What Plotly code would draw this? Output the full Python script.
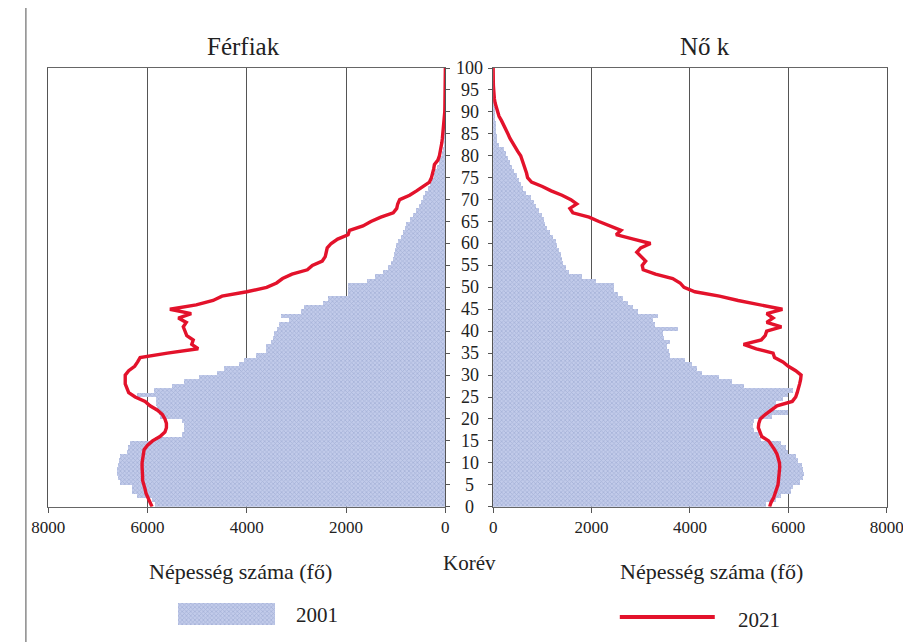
import plotly.graph_objects as go

ages = list(range(0, 101))
age_ticks = list(range(0, 101, 5))
x_ticks = [0, 2000, 4000, 6000, 8000]
x_ticks_top = [1000, 3000, 5000, 7000]

men_2001 = [5840, 5900, 6200, 6300, 6300, 6550, 6580, 6600, 6600, 6580,
            6560, 6550, 6400, 6380, 6350, 5850, 5300, 5270, 5250, 5300,
            5740, 5760, 5800, 5820, 5820, 6200, 5870, 5500, 5270, 4950,
            4600, 4450, 4150, 4050, 3800, 3600, 3600, 3500, 3470, 3450,
            3380, 3350, 3150, 3300, 2900, 2850, 2450, 2350, 1960, 1950,
            1950, 1580, 1420, 1250, 1150, 1080, 1050, 1020, 1000, 980,
            950, 880, 850, 800, 780, 700, 650, 580, 530, 480,
            440, 400, 350, 310, 270, 230, 210, 170, 130, 100,
            70, 50, 30, 20, 15, 10, 8, 6, 4, 3,
            2, 2, 1, 1, 0, 0, 0, 0, 0, 0, 0]

men_2021 = [5910, 5950, 6000, 6030, 6050, 6080, 6100, 6100, 6110, 6110,
            6110, 6100, 6090, 6070, 6000, 5900, 5750, 5650, 5620, 5620,
            5650, 5700, 5800, 5950, 6050, 6250, 6380, 6420, 6450, 6450,
            6450, 6380, 6260, 6200, 6150, 5600, 4980, 5110, 5080, 5210,
            5250, 5280, 5220, 5380, 5120, 5550, 5020, 4680, 4500, 4000,
            3600, 3400, 3280, 3090, 2780, 2680, 2480, 2420, 2400, 2380,
            2300, 2170, 1960, 1930, 1660, 1500, 1300, 1050, 980, 960,
            920, 720, 580, 450, 320, 280, 250, 235, 220, 150,
            120, 100, 90, 70, 60, 50, 40, 30, 22, 15,
            12, 10, 8, 5, 4, 3, 2, 1, 1, 0, 0]

women_2001 = [5550, 5750, 5850, 6050, 6100, 6250, 6300, 6320, 6300, 6280,
              6200, 6150, 6000, 5950, 5850, 5450, 5400, 5300, 5280, 5300,
              5680, 6000, 5700, 5750, 5900, 6000, 6100, 5100, 4850, 4600,
              4250, 4150, 4050, 3900, 3600, 3570, 3540, 3600, 3470, 3450,
              3770, 3300, 3250, 3350, 2950, 2850, 2750, 2650, 2550, 2450,
              2450, 2100, 1800, 1550, 1480, 1420, 1400, 1380, 1350, 1300,
              1280, 1220, 1150, 1100, 1060, 1040, 1000, 930, 880, 830,
              770, 680, 600, 560, 520, 480, 430, 390, 350, 300,
              270, 220, 130, 90, 80, 70, 65, 55, 45, 35,
              25, 15, 10, 6, 4, 2, 1, 0, 0, 0, 0]

women_2021 = [5620, 5650, 5700, 5730, 5760, 5790, 5800, 5810, 5820, 5825,
              5820, 5800, 5770, 5720, 5650, 5600, 5460, 5420, 5390, 5400,
              5430, 5530, 5650, 5770, 6080, 6150, 6180, 6210, 6230, 6250,
              6260, 6150, 6000, 5890, 5720, 5690, 5350, 5090, 5450, 5530,
              5560, 5860, 5560, 5690, 5560, 5880, 5400, 4980, 4600, 4100,
              3880, 3800, 3650, 3300, 3050, 3030, 3100, 3000, 2920, 3000,
              3200, 2850, 2500, 2600, 2350, 2150, 1950, 1620, 1560, 1700,
              1580, 1400, 1180, 1000, 780, 700, 680, 650, 630, 600,
              560, 500, 440, 390, 340, 300, 260, 220, 170, 120,
              90, 60, 40, 25, 15, 10, 5, 3, 2, 1, 0]

W, H = 911, 642
# observed page mapping: screen_x = 25 + 0.963 * svg_x ; screen_y = 8 + svg_y
SX0, SXS, SY0 = 25.0, 0.963, 8.0
FONT = "Liberation Serif, Times New Roman, Times, DejaVu Serif, serif"
TXT = "#222222"
RED = "#e3122b"
BAR_COLOR = "#b3bde0"
BAR_PATTERN = dict(shape="x", fgcolor="#8a9ac6", bgcolor="#c2cbea", size=3, solidity=0.45)


def px(x):
    return (x - SX0) / SXS / W


def py(y):
    return 1 - (y - SY0) / H


bar_y = [a + 0.5 for a in ages]

fig = go.Figure()
fig.add_trace(go.Bar(x=men_2001, y=bar_y, orientation="h", width=1,
                     marker=dict(color=BAR_COLOR, line_width=0, pattern=BAR_PATTERN),
                     xaxis="x", yaxis="y", showlegend=False))
fig.add_trace(go.Bar(x=women_2001, y=bar_y, orientation="h", width=1,
                     marker=dict(color=BAR_COLOR, line_width=0, pattern=BAR_PATTERN),
                     xaxis="x2", yaxis="y2", showlegend=False))
fig.add_trace(go.Scatter(x=men_2021, y=ages, mode="lines",
                         line=dict(color=RED, width=3.4), xaxis="x", yaxis="y", showlegend=False))
fig.add_trace(go.Scatter(x=women_2021, y=ages, mode="lines",
                         line=dict(color=RED, width=3.4), xaxis="x2", yaxis="y2", showlegend=False))
# legend swatch for 2001
fig.add_trace(go.Bar(x=[1], y=[0], orientation="h", width=1,
                     marker=dict(color=BAR_COLOR, line_width=0, pattern=BAR_PATTERN),
                     xaxis="x5", yaxis="y5", showlegend=False))

xdom_l = [px(48.3), px(445.5)]
xdom_r = [px(493.3), px(887)]
ydom = [py(506.7), py(68)]

common_x = dict(showline=True, linecolor="#666", linewidth=1, mirror=True,
                tickvals=x_ticks, ticktext=[str(v) for v in x_ticks],
                ticks="outside", ticklen=5, tickcolor="#555",
                showgrid=True, gridcolor="#555", gridwidth=1, zeroline=False,
                tickfont=dict(family=FONT, size=17, color=TXT))
common_y = dict(range=[0, 100], tickvals=age_ticks, showticklabels=False,
                ticks="outside", ticklen=4, tickcolor="#555",
                showline=True, linecolor="#555", linewidth=1, mirror=True,
                showgrid=False, zeroline=False)
top_x = dict(tickvals=x_ticks_top, ticks="outside", ticklen=4, tickcolor="#555",
             showticklabels=False, showgrid=False, showline=False, zeroline=False, side="top")

fig.update_layout(
    width=W, height=H, autosize=False,
    margin=dict(l=0, r=0, t=0, b=0),
    paper_bgcolor="white", plot_bgcolor="white",
    bargap=0, barmode="overlay",
    xaxis=dict(domain=xdom_l, range=[8000, 0], anchor="y", **common_x),
    xaxis2=dict(domain=xdom_r, range=[0, 8000], anchor="y2", **common_x),
    xaxis3=dict(overlaying="x", range=[8000, 0], anchor="y", **top_x),
    xaxis4=dict(overlaying="x2", range=[0, 8000], anchor="y2", **top_x),
    yaxis=dict(domain=ydom, anchor="x", side="right", **common_y),
    yaxis2=dict(domain=ydom, anchor="x2", side="left", **common_y),
    xaxis5=dict(domain=[px(178), px(275)], range=[0, 1], visible=False, anchor="y5"),
    yaxis5=dict(domain=[py(625), py(603)], range=[-0.5, 0.5], visible=False, anchor="x5"),
)

annotations = []
for a in age_ticks:
    annotations.append(dict(x=px(470), y=a, xref="paper", yref="y", text=str(a),
                            showarrow=False, xanchor="center", yanchor="middle",
                            font=dict(family=FONT, size=18, color=TXT)))

texts = [
    ("Férfiak", 244, 47, 25),
    ("Nő k", 705, 47, 25),
    ("Népesség száma (fő)", 241, 571, 22),
    ("Népesség száma (fő)", 712, 571, 22),
    ("Korév", 470, 563, 21),
    ("2001", 317, 615, 21),
    ("2021", 759, 620, 21),
]
for t, x, y, s in texts:
    annotations.append(dict(x=px(x), y=py(y), xref="paper", yref="paper", text=t,
                            showarrow=False, xanchor="center", yanchor="middle",
                            font=dict(family=FONT, size=s, color=TXT)))
fig.update_layout(annotations=annotations)

shapes = [
    dict(type="line", xref="paper", yref="paper", x0=px(620), x1=px(715), y0=py(617), y1=py(617),
         line=dict(color=RED, width=4)),
    dict(type="line", xref="paper", yref="paper", x0=0.001, x1=1, y0=py(7), y1=py(7),
         line=dict(color="#8a8f8a", width=1.5)),
    dict(type="line", xref="paper", yref="paper", x0=0.001, x1=0.001, y0=py(7), y1=0,
         line=dict(color="#8a8a8a", width=1.5)),
]
fig.update_layout(shapes=shapes)

fig.write_html("out.html", config={"responsive": False})
